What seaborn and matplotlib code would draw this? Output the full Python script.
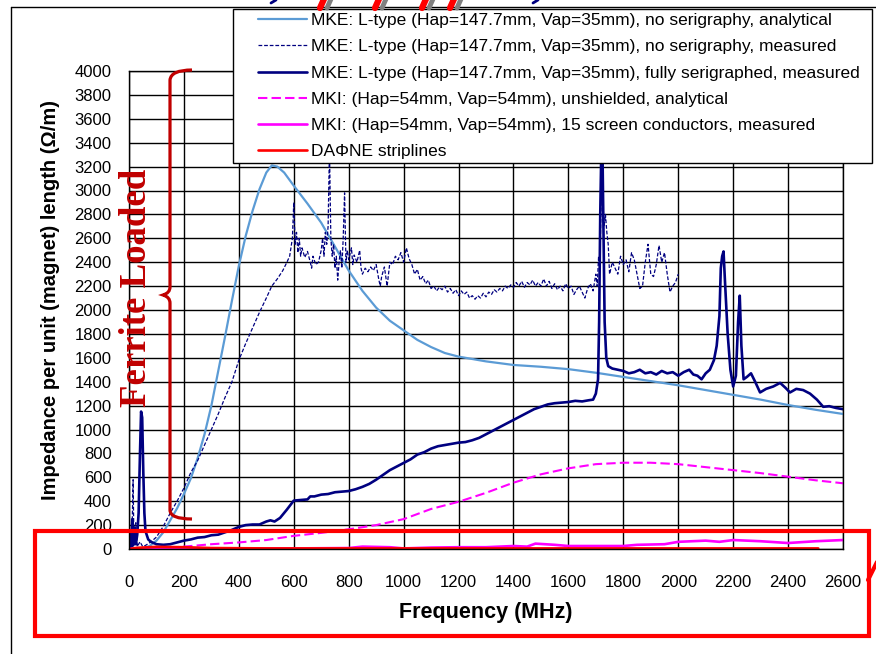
import numpy as np
import pandas as pd
import matplotlib
matplotlib.use("Agg")
import matplotlib.pyplot as plt
import seaborn as sns
from matplotlib.path import Path
from matplotlib.patches import PathPatch, Rectangle
from matplotlib.lines import Line2D

sns.set_theme(style="white")
plt.rcParams['font.family'] = ['Liberation Sans', 'DejaVu Sans']
plt.rcParams.update({'text.color': 'black', 'axes.labelcolor': 'black',
                     'xtick.color': 'black', 'ytick.color': 'black'})

# --- MKE L-type, no serigraphy, analytical ---
f_mke_ana = [0, 50, 75, 100, 125, 150, 175, 200, 225, 250, 275, 300, 325, 350, 375, 400,
             425, 450, 475, 500, 520, 540, 565, 600, 650, 700, 750, 800, 850, 900, 950,
             1000, 1050, 1100, 1150, 1200, 1300, 1400, 1500, 1600, 1700, 1800, 1900, 2000,
             2100, 2200, 2300, 2400, 2500, 2600]
z_mke_ana = [0, 5, 25, 70, 140, 240, 340, 460, 590, 760, 960, 1200, 1490, 1780, 2080, 2370,
             2620, 2830, 3010, 3150, 3210, 3200, 3150, 3040, 2890, 2730, 2530, 2330, 2160, 2020, 1910,
             1830, 1750, 1690, 1640, 1610, 1570, 1540, 1525, 1505, 1475, 1440, 1405, 1370,
             1330, 1290, 1250, 1205, 1165, 1130]

# --- MKE L-type, no serigraphy, measured ---
f_mke_meas = [0, 5, 10, 15, 18, 25, 30, 40, 50, 60, 80, 100, 125, 150, 175, 200, 225, 250, 275,
              300, 325, 350, 375, 400, 425, 450, 475, 500, 520, 540, 560, 575, 585, 595, 600,
              605, 610, 615, 620, 625, 630, 640, 650, 660, 665, 670, 680, 690, 700, 705, 710,
              715, 720, 725, 730, 735, 740, 745, 750, 755, 760, 765, 770, 775, 780, 785, 790,
              795, 800, 810, 815, 820, 830, 840, 845, 850, 860, 870, 880, 890, 900, 910, 915,
              920, 930, 940, 950, 960, 970, 980, 990, 1000, 1010, 1020, 1030, 1040, 1050, 1060,
              1070, 1080, 1090, 1100, 1110, 1120, 1130, 1140, 1150, 1160, 1170, 1180, 1190,
              1200, 1210, 1220, 1230, 1240, 1250, 1260, 1270, 1280, 1290, 1300, 1310, 1320,
              1330, 1340, 1350, 1360, 1370, 1380, 1390, 1400, 1410, 1420, 1430, 1440, 1450,
              1460, 1470, 1480, 1490, 1500, 1510, 1520, 1530, 1540, 1550, 1560, 1570, 1580,
              1590, 1600, 1610, 1620, 1630, 1640, 1650, 1660, 1670, 1680, 1690, 1700, 1705,
              1710, 1715, 1718, 1722, 1726, 1730, 1735, 1740, 1745, 1750, 1760, 1770, 1780,
              1790, 1800, 1810, 1820, 1830, 1840, 1850, 1860, 1870, 1880, 1890, 1900, 1910,
              1920, 1930, 1940, 1950, 1960, 1970, 1980, 1990, 2000]
z_mke_meas = [0, 120, 30, 580, 40, 220, 20, 60, 20, 30, 60, 100, 190, 300, 400, 510, 640, 740, 870,
              1000, 1130, 1270, 1400, 1580, 1720, 1850, 1980, 2100, 2200, 2260, 2330, 2400, 2450, 2600, 2900,
              2550, 2650, 2480, 2600, 2450, 2520, 2440, 2490, 2400, 2350, 2450, 2380, 2400, 2500, 2600, 2450,
              2650, 2550, 2700, 3350, 2600, 2450, 2550, 2350, 2450, 2250, 2400, 2500, 2350, 2600, 2980, 2400,
              2500, 2420, 2520, 2380, 2460, 2400, 2500, 2350, 2300, 2350, 2320, 2360, 2330, 2380, 2250, 2200,
              2280, 2360, 2200, 2400, 2380, 2450, 2420, 2480, 2400, 2520, 2430, 2380, 2300, 2340, 2250,
              2280, 2220, 2250, 2180, 2200, 2160, 2190, 2170, 2200, 2150, 2180, 2140, 2170,
              2120, 2160, 2130, 2150, 2100, 2120, 2090, 2120, 2100, 2140, 2110, 2150, 2130,
              2170, 2150, 2180, 2160, 2200, 2180, 2210, 2190, 2230, 2200, 2240, 2190, 2230,
              2210, 2250, 2200, 2230, 2200, 2260, 2200, 2240, 2180, 2220, 2170, 2200, 2160,
              2220, 2180, 2200, 2130, 2170, 2200, 2150, 2100, 2180, 2220, 2160, 2300, 2200,
              2450, 2350, 2800, 3350, 2900, 2700, 2800, 2650, 2550, 2300, 2400, 2350, 2300,
              2450, 2380, 2420, 2320, 2480, 2420, 2300, 2180, 2200, 2400, 2550, 2300, 2280,
              2380, 2540, 2400, 2480, 2300, 2150, 2200, 2230, 2300]

# --- MKE L-type, fully serigraphed, measured ---
f_mke_ser = [0, 5, 8, 12, 15, 20, 25, 30, 35, 40, 44, 48, 52, 56, 60, 70, 80, 100, 125, 150, 175,
             200, 225, 250, 275, 300, 325, 350, 375, 400, 425, 450, 475, 500, 515, 530, 550, 575,
             600, 625, 650, 660, 675, 700, 725, 750, 775, 800, 825, 850, 875, 900, 925, 950, 975,
             1000, 1025, 1050, 1075, 1100, 1125, 1150, 1175, 1200, 1225, 1250, 1275, 1300, 1325,
             1350, 1375, 1400, 1425, 1450, 1475, 1500, 1525, 1550, 1575, 1600, 1625, 1650, 1675,
             1690, 1700, 1708, 1712, 1716, 1720, 1724, 1728, 1732, 1738, 1745, 1760, 1780, 1800,
             1820, 1840, 1860, 1880, 1900, 1920, 1940, 1960, 1980, 2000, 2020, 2040, 2055, 2070,
             2085, 2100, 2115, 2130, 2140, 2150, 2155, 2160, 2165, 2170, 2180, 2190, 2200, 2210,
             2218, 2224, 2230, 2238, 2250, 2265, 2280, 2298, 2320, 2346, 2371, 2390, 2407, 2430,
             2455, 2480, 2505, 2528, 2550, 2575, 2600]
z_mke_ser = [0, 150, 20, 250, 30, 180, 40, 120, 300, 800, 1150, 1100, 650, 300, 150, 80, 60, 40, 35, 40, 55,
             70, 80, 95, 100, 115, 120, 140, 160, 185, 200, 205, 205, 230, 240, 230, 260, 330,
             405, 410, 415, 440, 440, 455, 460, 475, 480, 485, 500, 520, 545, 580, 620, 660, 690,
             720, 750, 790, 810, 840, 860, 870, 880, 890, 895, 910, 930, 960, 990,
             1020, 1050, 1080, 1110, 1140, 1170, 1190, 1210, 1220, 1225, 1230, 1240, 1235, 1245,
             1250, 1300, 1420, 1900, 2800, 3350, 3350, 2600, 1900, 1600, 1530, 1510, 1500, 1490,
             1470, 1480, 1500, 1470, 1480, 1460, 1490, 1470, 1480, 1450, 1480, 1500, 1460, 1450,
             1420, 1470, 1500, 1580, 1700, 1950, 2350, 2450, 2490, 2250, 1800, 1500, 1360, 1450,
             1900, 2120, 1700, 1420, 1440, 1470, 1400, 1310, 1340, 1360, 1390, 1350, 1310, 1340,
             1330, 1300, 1250, 1190, 1195, 1180, 1170]

# --- MKI unshielded, analytical ---
f_mki_ana = [0, 100, 200, 300, 400, 500, 600, 700, 800, 900, 1000, 1100, 1200, 1300, 1400, 1500,
             1600, 1700, 1800, 1900, 2000, 2100, 2200, 2300, 2400, 2500, 2600]
z_mki_ana = [0, 5, 20, 40, 55, 75, 110, 135, 165, 200, 250, 335, 395, 470, 555, 625,
             675, 710, 722, 722, 710, 685, 660, 635, 605, 575, 550]

# --- MKI 15 screen conductors, measured ---
f_mki_meas = [0, 200, 400, 600, 800, 850, 950, 1000, 1100, 1200, 1300, 1400, 1450, 1480, 1550, 1600,
              1700, 1800, 1850, 1950, 2000, 2100, 2150, 2200, 2300, 2400, 2500, 2600]
z_mki_meas = [0, 5, 5, 5, 8, 20, 15, 5, 12, 15, 15, 25, 20, 45, 35, 25,
              25, 25, 35, 40, 60, 70, 60, 75, 65, 50, 65, 75]

# --- DAFNE striplines ---
f_dafne = [0, 30, 100, 200, 300, 500, 1000, 1500, 2000, 2510]
z_dafne = [0, 10, 18, 15, 8, 5, 5, 5, 5, 5]

labels = [
    "MKE: L-type (Hap=147.7mm, Vap=35mm), no serigraphy, analytical",
    "MKE: L-type (Hap=147.7mm, Vap=35mm), no serigraphy, measured",
    "MKE: L-type (Hap=147.7mm, Vap=35mm), fully serigraphed, measured",
    "MKI: (Hap=54mm, Vap=54mm), unshielded, analytical",
    "MKI: (Hap=54mm, Vap=54mm), 15 screen conductors, measured",
    "DA\u03a6NE striplines",
]

W, H = 876, 654
fig = plt.figure(figsize=(W / 100, H / 100), dpi=100)
ax = fig.add_axes([129 / W, 105 / H, 714 / W, 478 / H])

styles = [
    (f_mke_ana, z_mke_ana, dict(color='#5B9BD5', lw=1.6, ls='-')),
    (f_mke_meas, z_mke_meas, dict(color='#000080', lw=0.9, ls=(0, (3, 1.5)))),
    (f_mke_ser, z_mke_ser, dict(color='#000080', lw=1.9, ls='-')),
    (f_mki_ana, z_mki_ana, dict(color='#FF00FF', lw=1.5, ls=(0, (4.5, 2)))),
    (f_mki_meas, z_mki_meas, dict(color='#FF00FF', lw=1.9, ls='-')),
    (f_dafne, z_dafne, dict(color='#FF0000', lw=1.9, ls='-')),
]
handles = []
for (fx_, zy_, st), lab in zip(styles, labels):
    sns.lineplot(x=fx_, y=zy_, ax=ax, sort=False, estimator=None, **st)
    handles.append(Line2D([], [], **st))

ax.set_xlim(0, 2600)
ax.set_ylim(0, 4000)
ax.set_xticks(np.arange(0, 2601, 200))
ax.set_yticks(np.arange(0, 4001, 200))
ax.grid(True, color='black', lw=1.0)
ax.set_axisbelow(True)
for s in ax.spines.values():
    s.set_color('black')
    s.set_linewidth(1.0)
ax.tick_params(axis='y', direction='out', length=4.5, width=1, color='black', pad=8, labelsize=12)
ax.tick_params(axis='x', length=0, pad=19, labelsize=12)
ax.set_xlabel("Frequency (MHz)", fontsize=15.5, fontweight='bold')
ax.set_ylabel("Impedance per unit (magnet) length (\u03a9/m)", fontsize=14.5, fontweight='bold')
ax.xaxis.set_label_coords(0.5, -0.11)
ax.yaxis.set_label_coords(-0.097, 0.52)


def P(x, y):
    return (x / W, 1 - y / H)


tf = fig.transFigure

# legend box overlapping the top of the plot
lx0, ly0 = P(233, 163)
lx1, ly1 = P(872, 9)
fig.add_artist(Rectangle((lx0, ly0), lx1 - lx0, ly1 - ly0, facecolor='white', edgecolor='black',
                         lw=1, transform=tf, zorder=5))
leg = fig.legend(handles, labels, loc='upper left', bbox_to_anchor=P(258, 13),
                 fontsize=12.5, frameon=False, handlelength=2.8, handletextpad=0.23,
                 borderpad=0, labelspacing=0.64, borderaxespad=0)
leg.set_zorder(6)

# outer chart border
fig.add_artist(Line2D([P(11, 0)[0]] * 2, [P(0, 7)[1], P(0, 660)[1]], color='black', lw=1, transform=tf))
fig.add_artist(Line2D([P(11, 0)[0], 1.0], [P(0, 7)[1]] * 2, color='black', lw=1, transform=tf, zorder=0))

# bracket for ferrite-loaded range
pts = [(192, 70), (171, 70), (170, 80), (170, 287), (170, 293), (163, 295), (170, 297),
       (170, 303), (170, 510), (170, 519), (192, 519)]
codes = [Path.MOVETO, Path.CURVE3, Path.CURVE3, Path.LINETO, Path.CURVE3, Path.CURVE3,
         Path.CURVE3, Path.CURVE3, Path.LINETO, Path.CURVE3, Path.CURVE3]
fig.add_artist(PathPatch(Path([P(*p) for p in pts], codes), fill=False, edgecolor='#C00000',
                         lw=2.3, transform=tf, zorder=6))
fig.text(*P(137, 288), "Ferrite Loaded", rotation=90, ha='center', va='center',
         family=['Liberation Serif', 'DejaVu Serif'], fontweight='bold', fontsize=26.5,
         color='#C00000', zorder=7)

# red highlight box around the low-impedance region
x0, y0 = P(35, 636)
x1, y1 = P(869, 531)
fig.add_artist(Rectangle((x0, y0), x1 - x0, y1 - y0, fill=False, edgecolor='#FF0000',
                         lw=3, transform=tf, zorder=6))
fig.add_artist(Line2D([P(868, 0)[0], P(878, 0)[0]], [P(0, 580)[1], P(0, 560)[1]],
                      color='#FF0000', lw=3, transform=tf, zorder=6))

# cropped arrow fragments at the top edge
for xb in [320, 375, 422, 450]:
    fig.add_artist(Line2D([P(xb, 0)[0], P(xb + 4, 0)[0]], [P(0, 8)[1], P(0, -1)[1]],
                          color='#FF0000', lw=4.5, transform=tf, zorder=6))
    fig.add_artist(Line2D([P(xb + 7, 0)[0], P(xb + 11, 0)[0]], [P(0, 8)[1], P(0, -1)[1]],
                          color='#808080', lw=3.5, transform=tf, zorder=6))
for xb in [271, 533]:
    fig.add_artist(Line2D([P(xb, 0)[0], P(xb + 5, 0)[0]], [P(0, 3)[1], P(0, 0)[1]],
                          color='#000080', lw=2, transform=tf, zorder=6))

fig.savefig("out.png", dpi=100)
